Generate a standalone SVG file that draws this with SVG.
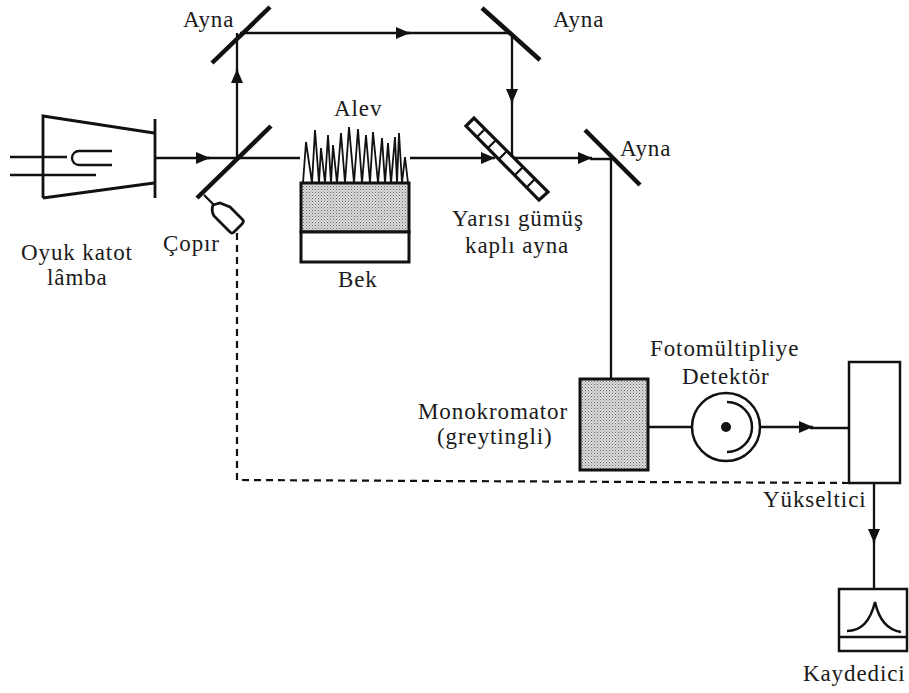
<svg xmlns="http://www.w3.org/2000/svg" width="909" height="693" viewBox="0 0 909 693">
<style>
.l{fill:none;stroke:#111;stroke-width:2.3}
.m{fill:none;stroke:#111;stroke-width:4.5}
.b{fill:#fff;stroke:#111;stroke-width:2.5}
.g{fill:url(#sp);stroke:#111;stroke-width:3}
.h{fill:#111}
text{font-family:"Liberation Serif","Times New Roman",serif;font-size:23px;fill:#1a1a1a;letter-spacing:.9px}
</style>
<defs>
<pattern id="sp" width="3" height="3" patternUnits="userSpaceOnUse">
<rect width="3" height="3" fill="#dcdcdc"/><rect width="1" height="1" fill="#666"/><rect x="1.5" y="1.5" width="1" height="1" fill="#888"/>
</pattern>
<marker id="ar" markerWidth="15" markerHeight="12" refX="14" refY="6" orient="auto" markerUnits="userSpaceOnUse"><path class="h" d="M0 0L14 6L0 12Z"/></marker>
</defs>
<g id="connectors">
<path class="l" d="M155 158H210" marker-end="url(#ar)"/><path class="l" d="M205 158H300"/>
<path class="l" d="M237 158V69" marker-end="url(#ar)"/><path class="l" d="M237 72V33"/>
<path class="l" d="M240 33H410" marker-end="url(#ar)"/><path class="l" d="M405 33H512"/>
<path class="l" d="M512 33V103" marker-end="url(#ar)"/><path class="l" d="M512 100V158"/>
<path class="l" d="M410 158H495" marker-end="url(#ar)"/>
<path class="l" d="M512 158H592" marker-end="url(#ar)"/><path class="l" d="M590 159H611V379"/>
<path class="l" d="M648 427H692"/>
<path class="l" d="M760 427H813" marker-end="url(#ar)"/><path class="l" d="M810 428H849"/>
<path class="l" d="M874 483V543" marker-end="url(#ar)"/><path class="l" d="M874 540V589"/>
<path d="M237 233V480L848 483" fill="none" stroke="#111" stroke-width="2.2" stroke-dasharray="7 5"/>
</g>
<g id="lamp">
<path class="l" d="M43 198V116L154 133M43 198L154 183" style="stroke-width:2.8"/>
<path class="l" d="M155 119V198" style="stroke-width:2.8"/>
<path class="l" d="M10 157H67M10 175H96M112 151H79A7 7 0 0 0 79 165H112"/>
</g>
<g id="chopper">
<path class="m" d="M197 198L271 126"/>
<path class="l" d="M204 195L214 205"/>
<path class="b" d="M213 205L220 203L230 207L243 220Q244 222 242 224L234 232Q232 234 230 232L214 216Q211 211 213 205Z" style="stroke-width:2.8"/>
</g>
<g id="mirror-top-left"><path class="m" d="M212 63L270 7"/></g>
<g id="mirror-top-right"><path class="m" d="M482 8L540 60"/></g>
<g id="mirror-right"><path class="m" d="M585 130L640 185"/></g>
<g id="half-mirror">
<path class="b" d="M466 126L474 118L548 192L539 200Z" style="stroke-width:3.2"/>
<path class="l" d="M477 137L485 129M488 148L496 140M499 159L507 151M515 175L523 167M527 187L535 179"/>
</g>
<g id="burner">
<rect class="g" x="301" y="183" width="108" height="49"/>
<rect class="b" x="301" y="232" width="108" height="30" style="stroke-width:3"/>
<path class="l" d="M303 183L306 142L312 183L315 130L319 183L321 148L325 183L328 135L331 183L333 145L337 183L341 133L345 183L349 127L354 183L358 129L362 183L366 135L370 183L373 132L378 183L382 138L385 183L388 143L391 183L395 137L397 183L399 133L402 183L405 157L408 183" style="stroke-width:1.8"/>
</g>
<g id="monochromator"><rect class="g" x="580" y="379" width="68" height="91"/></g>
<g id="detector">
<circle class="b" cx="726" cy="427" r="34"/>
<circle class="h" cx="726" cy="427" r="5"/>
<path class="l" d="M727 402A25 25 0 0 1 727 452" style="stroke-width:2.5"/>
</g>
<g id="amplifier"><rect class="b" x="849" y="362" width="51" height="121"/></g>
<g id="recorder">
<rect class="b" x="839" y="589" width="68" height="62"/>
<path class="l" d="M839 637H907" style="stroke-width:2.5"/>
<path class="l" d="M847 631Q868 631 875 602Q881 629 901 632" style="stroke-width:2.5"/>
</g>
<g id="labels">
<text x="183" y="27">Ayna</text>
<text x="553" y="27">Ayna</text>
<text x="620" y="156">Ayna</text>
<text x="334" y="116">Alev</text>
<text x="21" y="260">Oyuk katot</text>
<text x="47" y="285">lâmba</text>
<text x="163" y="251">Çopır</text>
<text x="338" y="287">Bek</text>
<text x="452" y="226">Yarısı gümüş</text>
<text x="465" y="253">kaplı ayna</text>
<text x="650" y="356">Fotomültipliye</text>
<text x="682" y="384">Detektör</text>
<text x="418" y="419">Monokromator</text>
<text x="437" y="444">(greytingli)</text>
<text x="763" y="507">Yükseltici</text>
<text x="803" y="681">Kaydedici</text>
</g>
</svg>
